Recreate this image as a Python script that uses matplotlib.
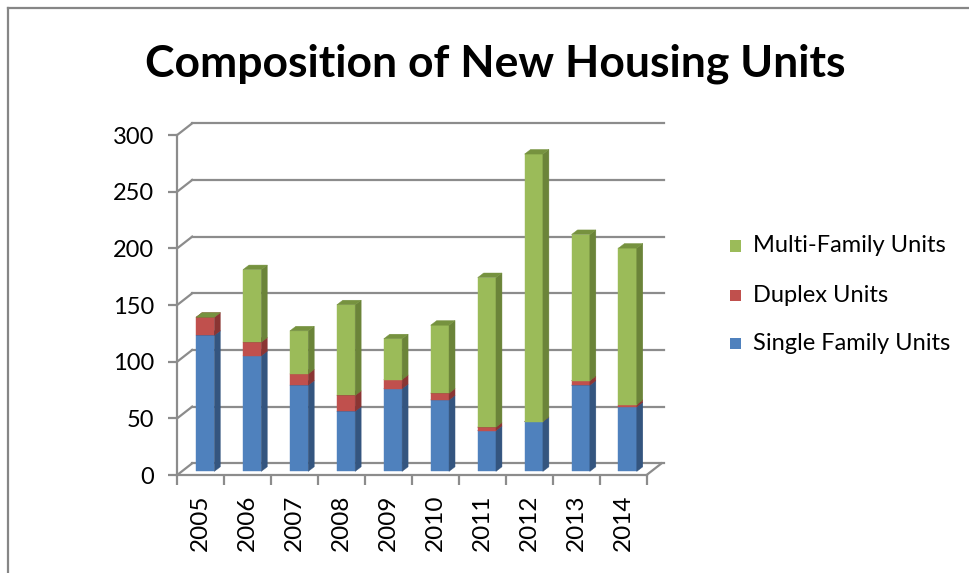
import matplotlib
matplotlib.use("Agg")
import matplotlib.pyplot as plt
from matplotlib.patches import Polygon, Rectangle
from matplotlib.lines import Line2D
from matplotlib.transforms import IdentityTransform
import numpy as np

# ---------------- data ----------------
years = ["2005", "2006", "2007", "2008", "2009", "2010", "2011", "2012", "2013", "2014"]
single_family = [120, 102, 76, 53, 73, 63, 36, 44, 76, 57]
duplex = [16, 12, 10, 14, 8, 6, 3, 0, 4, 2]
multi_family = [0, 64, 38, 80, 36, 60, 132, 236, 129, 138]
series_names = ["Single Family Units", "Duplex Units", "Multi-Family Units"]
y_ticks = [0, 50, 100, 150, 200, 250, 300]
title = "Composition of New Housing Units"

# ---------------- style ----------------
front_colors = ["#4F81BD", "#C0504D", "#9BBB59"]
side_colors = ["#34557F", "#8A3533", "#6B8439"]
top_colors = ["#3E6496", "#9A3C3A", "#76923F"]
grid_gray = "#8C8C8C"
FONT = ["Lato", "DejaVu Sans"]

W, H = 969, 573
fig = plt.figure(figsize=(W / 100, H / 100), dpi=100)
plt.rcParams["font.family"] = FONT

# front plane of the plot: x -0.5..9.5 -> px 177..647 ; y 0..300 -> px 475..135 (from top)
x_left, x_right = 177.2, 646.6
y_zero, y_top = 475.0, 135.0
ax = fig.add_axes([x_left / W, (H - y_zero) / H, (x_right - x_left) / W, (y_zero - y_top) / H])
ax.set_xlim(-0.5, len(years) - 0.5)
ax.set_ylim(0, 300)
ax.patch.set_visible(False)
for s in ["top", "right"]:
    ax.spines[s].set_visible(False)
for s in ["left", "bottom"]:
    ax.spines[s].set_color(grid_gray)
    ax.spines[s].set_linewidth(1.6)
    ax.spines[s].set_zorder(1)

ax.set_yticks(y_ticks)
ax.tick_params(axis="y", length=6.5, width=1.6, color=grid_gray, labelsize=17, pad=10)
x = np.arange(len(years))
ax.set_xticks(x)
ax.set_xticklabels(years, rotation=90, va="top", ha="center")
ax.tick_params(axis="x", which="major", length=0, labelsize=17.5, pad=14)
ax.set_xticks(np.arange(-0.5, len(years), 1.0), minor=True)
ax.tick_params(axis="x", which="minor", length=7.5, width=1.6, color=grid_gray)

# 3-D offsets (pixels, display coords: y up)
BACK = np.array([15.0, 11.7])      # back wall offset
BAR_FRONT = np.array([4.5, 3.6])   # bar front face depth
BAR_DEPTH = np.array([6.0, 4.6])   # bar thickness in depth
bar_w = 0.39

fig.canvas.draw()
T = ax.transData


def disp(px, py):
    return T.transform((px, py))


ident = IdentityTransform()

# back wall gridlines + left wall diagonals
for v in y_ticks:
    p0 = disp(-0.5, v)
    p1 = disp(len(years) - 0.5, v)
    ax.add_line(Line2D([p0[0], p0[0] + BACK[0]], [p0[1], p0[1] + BACK[1]],
                       transform=ident, color=grid_gray, lw=1.6, zorder=1, clip_on=False))
    ax.add_line(Line2D([p0[0] + BACK[0], p1[0] + BACK[0] + 2], [p0[1] + BACK[1], p1[1] + BACK[1]],
                       transform=ident, color=grid_gray, lw=1.6, zorder=1, clip_on=False))
# floor right edge
pr = disp(len(years) - 0.5, 0)
ax.add_line(Line2D([pr[0], pr[0] + BACK[0]], [pr[1], pr[1] + BACK[1]],
                   transform=ident, color=grid_gray, lw=1.6, zorder=1, clip_on=False))

# stacked 3-D bars
values = [single_family, duplex, multi_family]
bottoms = np.zeros(len(years))
z = 3
for k, vals in enumerate(values):
    vals = np.array(vals, dtype=float)
    for i in range(len(years)):
        y0, y1 = bottoms[i], bottoms[i] + vals[i]
        a = disp(i - bar_w / 2, y0) + BAR_FRONT
        b = disp(i + bar_w / 2, y0) + BAR_FRONT
        c = disp(i + bar_w / 2, y1) + BAR_FRONT
        d = disp(i - bar_w / 2, y1) + BAR_FRONT
        if vals[i] > 0:
            ax.add_patch(Polygon([a, b, c, d], closed=True, transform=ident,
                                 facecolor=front_colors[k], edgecolor=front_colors[k],
                                 lw=0.3, zorder=z, clip_on=False))
            ax.add_patch(Polygon([b, c, c + BAR_DEPTH, b + BAR_DEPTH], closed=True, transform=ident,
                                 facecolor=side_colors[k], edgecolor=side_colors[k],
                                 lw=0.3, zorder=z, clip_on=False))
        ax.add_patch(Polygon([d, c, c + BAR_DEPTH, d + BAR_DEPTH], closed=True, transform=ident,
                             facecolor=top_colors[k], edgecolor=top_colors[k],
                             lw=0.3, zorder=z + 0.5, clip_on=False))
    bottoms += vals
    z += 1

# legend (manual, top entry = last series)
leg_y = [343, 295, 246]
for k, name in enumerate(series_names):
    yy = leg_y[k]
    fig.patches.append(Rectangle(((730) / W, (H - yy - 5.5) / H), 11 / W, 11 / H,
                                 transform=fig.transFigure, facecolor=front_colors[k],
                                 edgecolor="none"))
    fig.text(753 / W, (H - yy) / H, name, fontsize=17, va="center", ha="left", color="black")

# title
fig.text(495 / W, (H - 64) / H, title, fontsize=32, fontweight="bold", ha="center", va="center")

# outer border (top and left edges visible)
fig.add_artist(Line2D([7.5 / W, 1.0], [(H - 8) / H, (H - 8) / H], transform=fig.transFigure,
                      color="#868686", lw=1.6))
fig.add_artist(Line2D([7.5 / W, 7.5 / W], [0, (H - 8) / H], transform=fig.transFigure,
                      color="#868686", lw=1.6))

fig.savefig("out.png", dpi=100)
